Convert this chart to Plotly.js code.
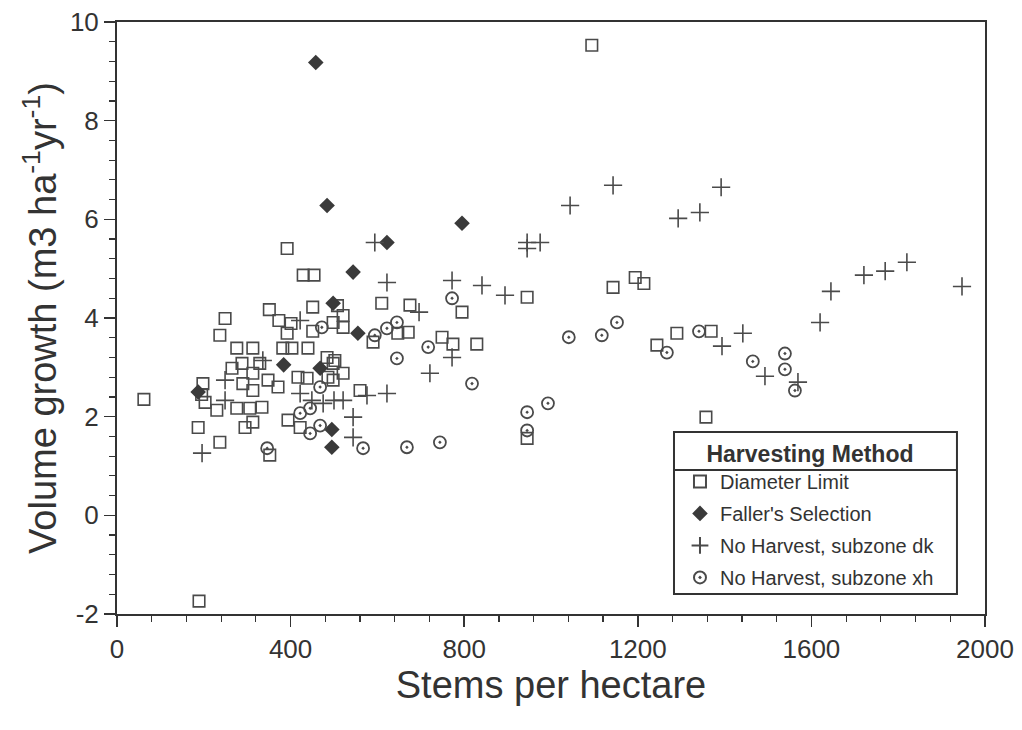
<!DOCTYPE html>
<html>
<head>
<meta charset="utf-8">
<script src="https://cdn.plot.ly/plotly-3.0.1.min.js"></script>
<style>html,body{margin:0;padding:0;background:#fff;}#chart{width:1022px;height:730px;}</style>
</head>
<body>
<div id="chart"></div>
<script>
// Diameter Limit
const dlX = [62,189,1094,392,429,454,351,451,249,237,373,401,392,451,498,276,313,382,403,440,484,498,265,288,313,329,348,371,290,313,198,195,203,230,276,306,334,187,295,313,237,352,417,438,486,394,422,508,521,521,610,675,945,795,647,671,590,749,774,829,502,521,498,560,1143,1194,1214,1290,1369,1244,1357,945];
const dlY = [2.35,-1.74,9.53,5.41,4.87,4.87,4.17,4.22,3.99,3.65,3.95,3.89,3.69,3.73,3.91,3.39,3.39,3.39,3.39,3.39,3.2,3.08,2.98,3.08,2.88,3.08,2.74,2.6,2.67,2.53,2.67,2.45,2.29,2.13,2.17,2.17,2.19,1.78,1.78,1.89,1.48,1.22,2.8,2.78,2.8,1.93,1.78,4.25,4.05,3.81,4.3,4.26,4.42,4.12,3.69,3.71,3.51,3.61,3.47,3.47,3.14,2.88,2.74,2.53,4.62,4.82,4.70,3.69,3.73,3.45,1.99,1.56];
// Faller's Selection
const fsX = [458,484,795,622,544,498,555,384,468,187,495,495];
const fsY = [9.18,6.28,5.92,5.53,4.93,4.3,3.69,3.05,2.98,2.5,1.74,1.38];
// No Harvest, subzone dk
const dkX = [196,249,249,336,422,422,449,475,500,521,576,622,544,544,594,622,772,841,894,945,975,945,696,772,721,1044,1143,1392,1293,1343,1442,1394,1493,1569,1645,1620,1721,1770,1820,1947];
const dkY = [1.26,2.74,2.33,3.14,3.95,2.47,2.33,2.27,2.33,2.33,2.43,2.47,1.99,1.58,5.53,4.72,4.76,4.66,4.46,5.53,5.53,5.41,4.12,3.2,2.88,6.28,6.69,6.65,6.02,6.14,3.69,3.43,2.82,2.7,4.54,3.91,4.87,4.95,5.13,4.64];
// No Harvest, subzone xh
const xhX = [346,472,468,422,445,468,445,594,622,645,717,772,645,818,567,668,744,945,945,993,1041,1117,1152,1267,1341,1465,1539,1539,1562];
const xhY = [1.36,3.81,2.6,2.07,2.17,1.82,1.66,3.65,3.79,3.91,3.41,4.4,3.18,2.67,1.36,1.38,1.48,2.09,1.72,2.27,3.61,3.65,3.91,3.3,3.73,3.12,3.28,2.96,2.53];

const seriesNames = ["Diameter Limit", "Faller's Selection", "No Harvest, subzone dk", "No Harvest, subzone xh"];
const legendTitle = 'Harvesting Method';
const xTicks = [0,400,800,1200,1600,2000];
const yTicks = [-2,0,2,4,6,8,10];

const mk = '#4a4a4a';
const font = 'Liberation Sans, Arial, Helvetica, sans-serif';

const traces = [
  {x: dlX, y: dlY, name: seriesNames[0], legendgroup: 'g1', type: 'scatter', mode: 'markers',
   marker: {symbol: 'square-open', size: 11.5, color: mk, line: {width: 1.6, color: mk}}},
  {x: fsX, y: fsY, name: seriesNames[1], legendgroup: 'g2', type: 'scatter', mode: 'markers',
   marker: {symbol: 'diamond', size: 12, color: '#3a3a3a', line: {width: 0}}},
  {x: dkX, y: dkY, name: seriesNames[2], legendgroup: 'g3', type: 'scatter', mode: 'markers',
   marker: {symbol: 'cross-thin-open', size: 13, color: mk, line: {width: 1.6, color: mk}}},
  {x: xhX, y: xhY, name: seriesNames[3], legendgroup: 'g4', type: 'scatter', mode: 'markers',
   marker: {symbol: 'circle-open-dot', size: 12, color: mk, line: {width: 1.8, color: mk}}}
];

const layout = {
  width: 1022, height: 730,
  margin: {l: 117, r: 37, t: 22, b: 116},
  paper_bgcolor: '#fff', plot_bgcolor: '#fff',
  font: {family: font, color: '#333'},
  showlegend: true,
  xaxis: {
    range: [0, 2000], showgrid: false, zeroline: false,
    showline: true, linecolor: '#333', linewidth: 2, mirror: true,
    ticks: 'outside', ticklen: 11, tickwidth: 1.5, tickcolor: '#333',
    tickvals: xTicks, ticktext: xTicks.map(String),
    tickfont: {size: 26, color: '#333', family: font},
    minor: {dtick: 80, ticks: 'outside', ticklen: 6, tickwidth: 1.2, tickcolor: '#333', showgrid: false},
    title: {text: 'Stems per hectare', font: {size: 38, color: '#333', family: font}, standoff: 8},
    automargin: false
  },
  yaxis: {
    range: [-2, 10], showgrid: false, zeroline: false,
    showline: true, linecolor: '#333', linewidth: 2, mirror: true,
    ticks: 'outside', ticklen: 11, tickwidth: 1.5, tickcolor: '#333',
    tickvals: yTicks, ticktext: yTicks.map(String),
    tickfont: {size: 26, color: '#333', family: font},
    minor: {dtick: 0.4, ticks: 'outside', ticklen: 6, tickwidth: 1.2, tickcolor: '#333', showgrid: false},
    title: {text: 'Volume growth (m3 ha<sup>-1</sup>yr<sup>-1</sup>)', font: {size: 38, color: '#333', family: font}, standoff: 2},
    automargin: false
  },
  legend: {
    x: 0.6486, y: 0.3074, xanchor: 'left', yanchor: 'top',
    bgcolor: 'rgba(0,0,0,0)', borderwidth: 0,
    font: {size: 20, color: '#333', family: font},
    title: {text: '<b>' + legendTitle + '</b>', side: 'top center', font: {size: 23, color: '#333', family: font}},
    itemsizing: 'constant',
    tracegroupgap: 3
  },
  shapes: [
    {type: 'rect', xref: 'paper', yref: 'paper', x0: 0.6417, x1: 0.9677, y0: 0.0338, y1: 0.3074,
     fillcolor: '#fff', line: {color: '#333', width: 2}, layer: 'above'},
    {type: 'line', xref: 'paper', yref: 'paper', x0: 0.6417, x1: 0.9677, y0: 0.2432, y1: 0.2432,
     line: {color: '#333', width: 2}, layer: 'above'}
  ]
};

Plotly.newPlot('chart', traces, layout, {displayModeBar: false, staticPlot: true});
</script>
</body>
</html>
